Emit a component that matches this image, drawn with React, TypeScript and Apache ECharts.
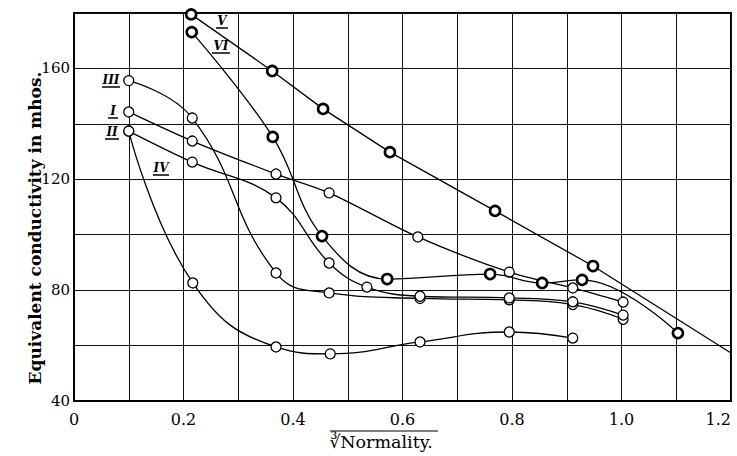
import React, { useEffect, useRef } from "react";
import * as echarts from "echarts";

// ---- data ----
const xI = [0.1, 0.216, 0.369, 0.466, 0.628, 0.795, 0.911, 1.003];
const yI = [144.3, 133.8, 121.9, 115.1, 99.2, 86.5, 80.8, 75.7];

const xII = [0.1, 0.216, 0.369, 0.466, 0.535, 0.632, 0.795, 0.911, 1.003];
const yII = [137.4, 126.2, 113.3, 89.8, 81.1, 77.8, 77.2, 75.8, 71.0];

const xIII = [0.1, 0.216, 0.369, 0.466, 0.632, 0.795, 0.911, 1.003];
const yIII = [155.6, 142.1, 86.2, 79.0, 77.0, 76.5, 74.8, 69.5];

const xIV = [0.1, 0.217, 0.369, 0.468, 0.632, 0.795, 0.911];
const yIV = [137.4, 82.6, 59.5, 57.0, 61.3, 64.9, 62.7];

const xV = [0.214, 0.362, 0.455, 0.577, 0.769, 0.948, 1.2];
const yV = [179.5, 159.1, 145.4, 129.8, 108.6, 88.7, 57.3];
const vMeasured = [true, true, true, true, true, true, false];

const xVI = [0.215, 0.363, 0.453, 0.572, 0.76, 0.855, 0.928, 1.103];
const yVI = [173.1, 135.3, 99.5, 84.0, 85.8, 82.6, 83.7, 64.5];

const xTicks = [0, 0.2, 0.4, 0.6, 0.8, 1.0, 1.2];
const yTicks = [40, 80, 120, 160];

const SERIF = "'DejaVu Serif', 'Liberation Serif', serif";

function pairs(xs: number[], ys: number[]) {
  return xs.map((x, i) => [x, ys[i]]);
}

function makeSeries(name: string, data: any[], bold: boolean, smooth: number | boolean) {
  return {
    name,
    type: "line",
    data,
    smooth,
    symbol: "circle",
    symbolSize: 10,
    showAllSymbol: true,
    clip: true,
    lineStyle: { color: "#000", width: 1.3 },
    itemStyle: { color: "#fff", borderColor: "#000", borderWidth: bold ? 2.6 : 1.3 },
    emphasis: { disabled: true },
    z: bold ? 4 : 3,
  };
}

function label(text: string, cx: number, cy: number, w: number) {
  return [
    {
      type: "text",
      x: cx,
      y: cy,
      style: {
        text,
        fill: "#000",
        font: `italic bold 12px ${SERIF}`,
        textAlign: "center",
        textVerticalAlign: "middle",
      },
      z: 10,
    },
    {
      type: "line",
      shape: { x1: cx - w / 2, y1: cy + 7, x2: cx + w / 2, y2: cy + 7 },
      style: { stroke: "#000", lineWidth: 1.5 },
      z: 10,
    },
  ];
}

export default function App() {
  const ref = useRef<HTMLDivElement>(null);
  useEffect(() => {
    if (!ref.current) return;
    const chart = echarts.init(ref.current, undefined, { renderer: "svg" });
    const vData = xV.map((x, i) =>
      vMeasured[i] ? [x, yV[i]] : { value: [x, yV[i]], symbol: "none" }
    );
    chart.setOption({
      animation: false,
      backgroundColor: "#fff",
      grid: {
        left: 74,
        right: 6,
        top: 13,
        bottom: 55,
        containLabel: false,
        outerBoundsMode: "none",
        show: true,
        borderColor: "#000",
        borderWidth: 2,
        backgroundColor: "transparent",
      },
      xAxis: {
        type: "value",
        min: 0,
        max: 1.2,
        interval: 0.1,
        axisLine: { show: true, lineStyle: { color: "#000", width: 2 } },
        axisTick: { show: false },
        splitLine: { show: true, lineStyle: { color: "#111", width: 1 } },
        axisLabel: {
          color: "#000",
          fontFamily: SERIF,
          fontSize: 16,
          margin: 10,
          alignMaxLabel: "right",
          formatter: (v: number) => {
            const t = xTicks.find((k) => Math.abs(k - v) < 1e-6);
            if (t === undefined) return "";
            return t === 0 ? "0" : t.toFixed(1);
          },
        },
      },
      yAxis: {
        type: "value",
        min: 40,
        max: 180,
        interval: 20,
        axisLine: { show: true, lineStyle: { color: "#000", width: 2 } },
        axisTick: { show: false },
        splitLine: { show: true, lineStyle: { color: "#111", width: 1 } },
        axisLabel: {
          color: "#000",
          fontFamily: SERIF,
          fontSize: 15,
          margin: 4,
          formatter: (v: number) => (yTicks.includes(v) ? String(v) : ""),
        },
      },
      graphic: [
        {
          type: "text",
          x: 35,
          y: 228,
          rotation: Math.PI / 2,
          style: {
            text: "Equivalent conductivity in mhos.",
            fill: "#000",
            font: `bold 17px ${SERIF}`,
            textAlign: "center",
            textVerticalAlign: "middle",
          },
        },
        {
          type: "text",
          x: 381,
          y: 442,
          style: {
            text: "∛Normality.",
            fill: "#000",
            font: `17.5px ${SERIF}`,
            textAlign: "center",
            textVerticalAlign: "middle",
          },
        },
        {
          type: "line",
          shape: { x1: 330, y1: 431, x2: 438, y2: 431 },
          style: { stroke: "#000", lineWidth: 1.2 },
        },
        ...label("V", 222, 21, 12),
        ...label("VI", 221, 46, 18),
        ...label("III", 111, 80, 18),
        ...label("I", 113, 111, 10),
        ...label("II", 112, 132, 14),
        ...label("IV", 161, 168, 16),
      ],
      series: [
        makeSeries("IV", pairs(xIV, yIV), false, 0.45),
        makeSeries("III", pairs(xIII, yIII), false, 0.45),
        makeSeries("II", pairs(xII, yII), false, 0.4),
        makeSeries("I", pairs(xI, yI), false, 0.3),
        makeSeries("VI", pairs(xVI, yVI), true, 0.4),
        makeSeries("V", vData, true, false),
      ],
    });
    return () => chart.dispose();
  }, []);
  return (
    <div
      ref={ref}
      style={{ position: "fixed", left: 0, top: 0, width: 737, height: 456, background: "#fff" }}
    />
  );
}
